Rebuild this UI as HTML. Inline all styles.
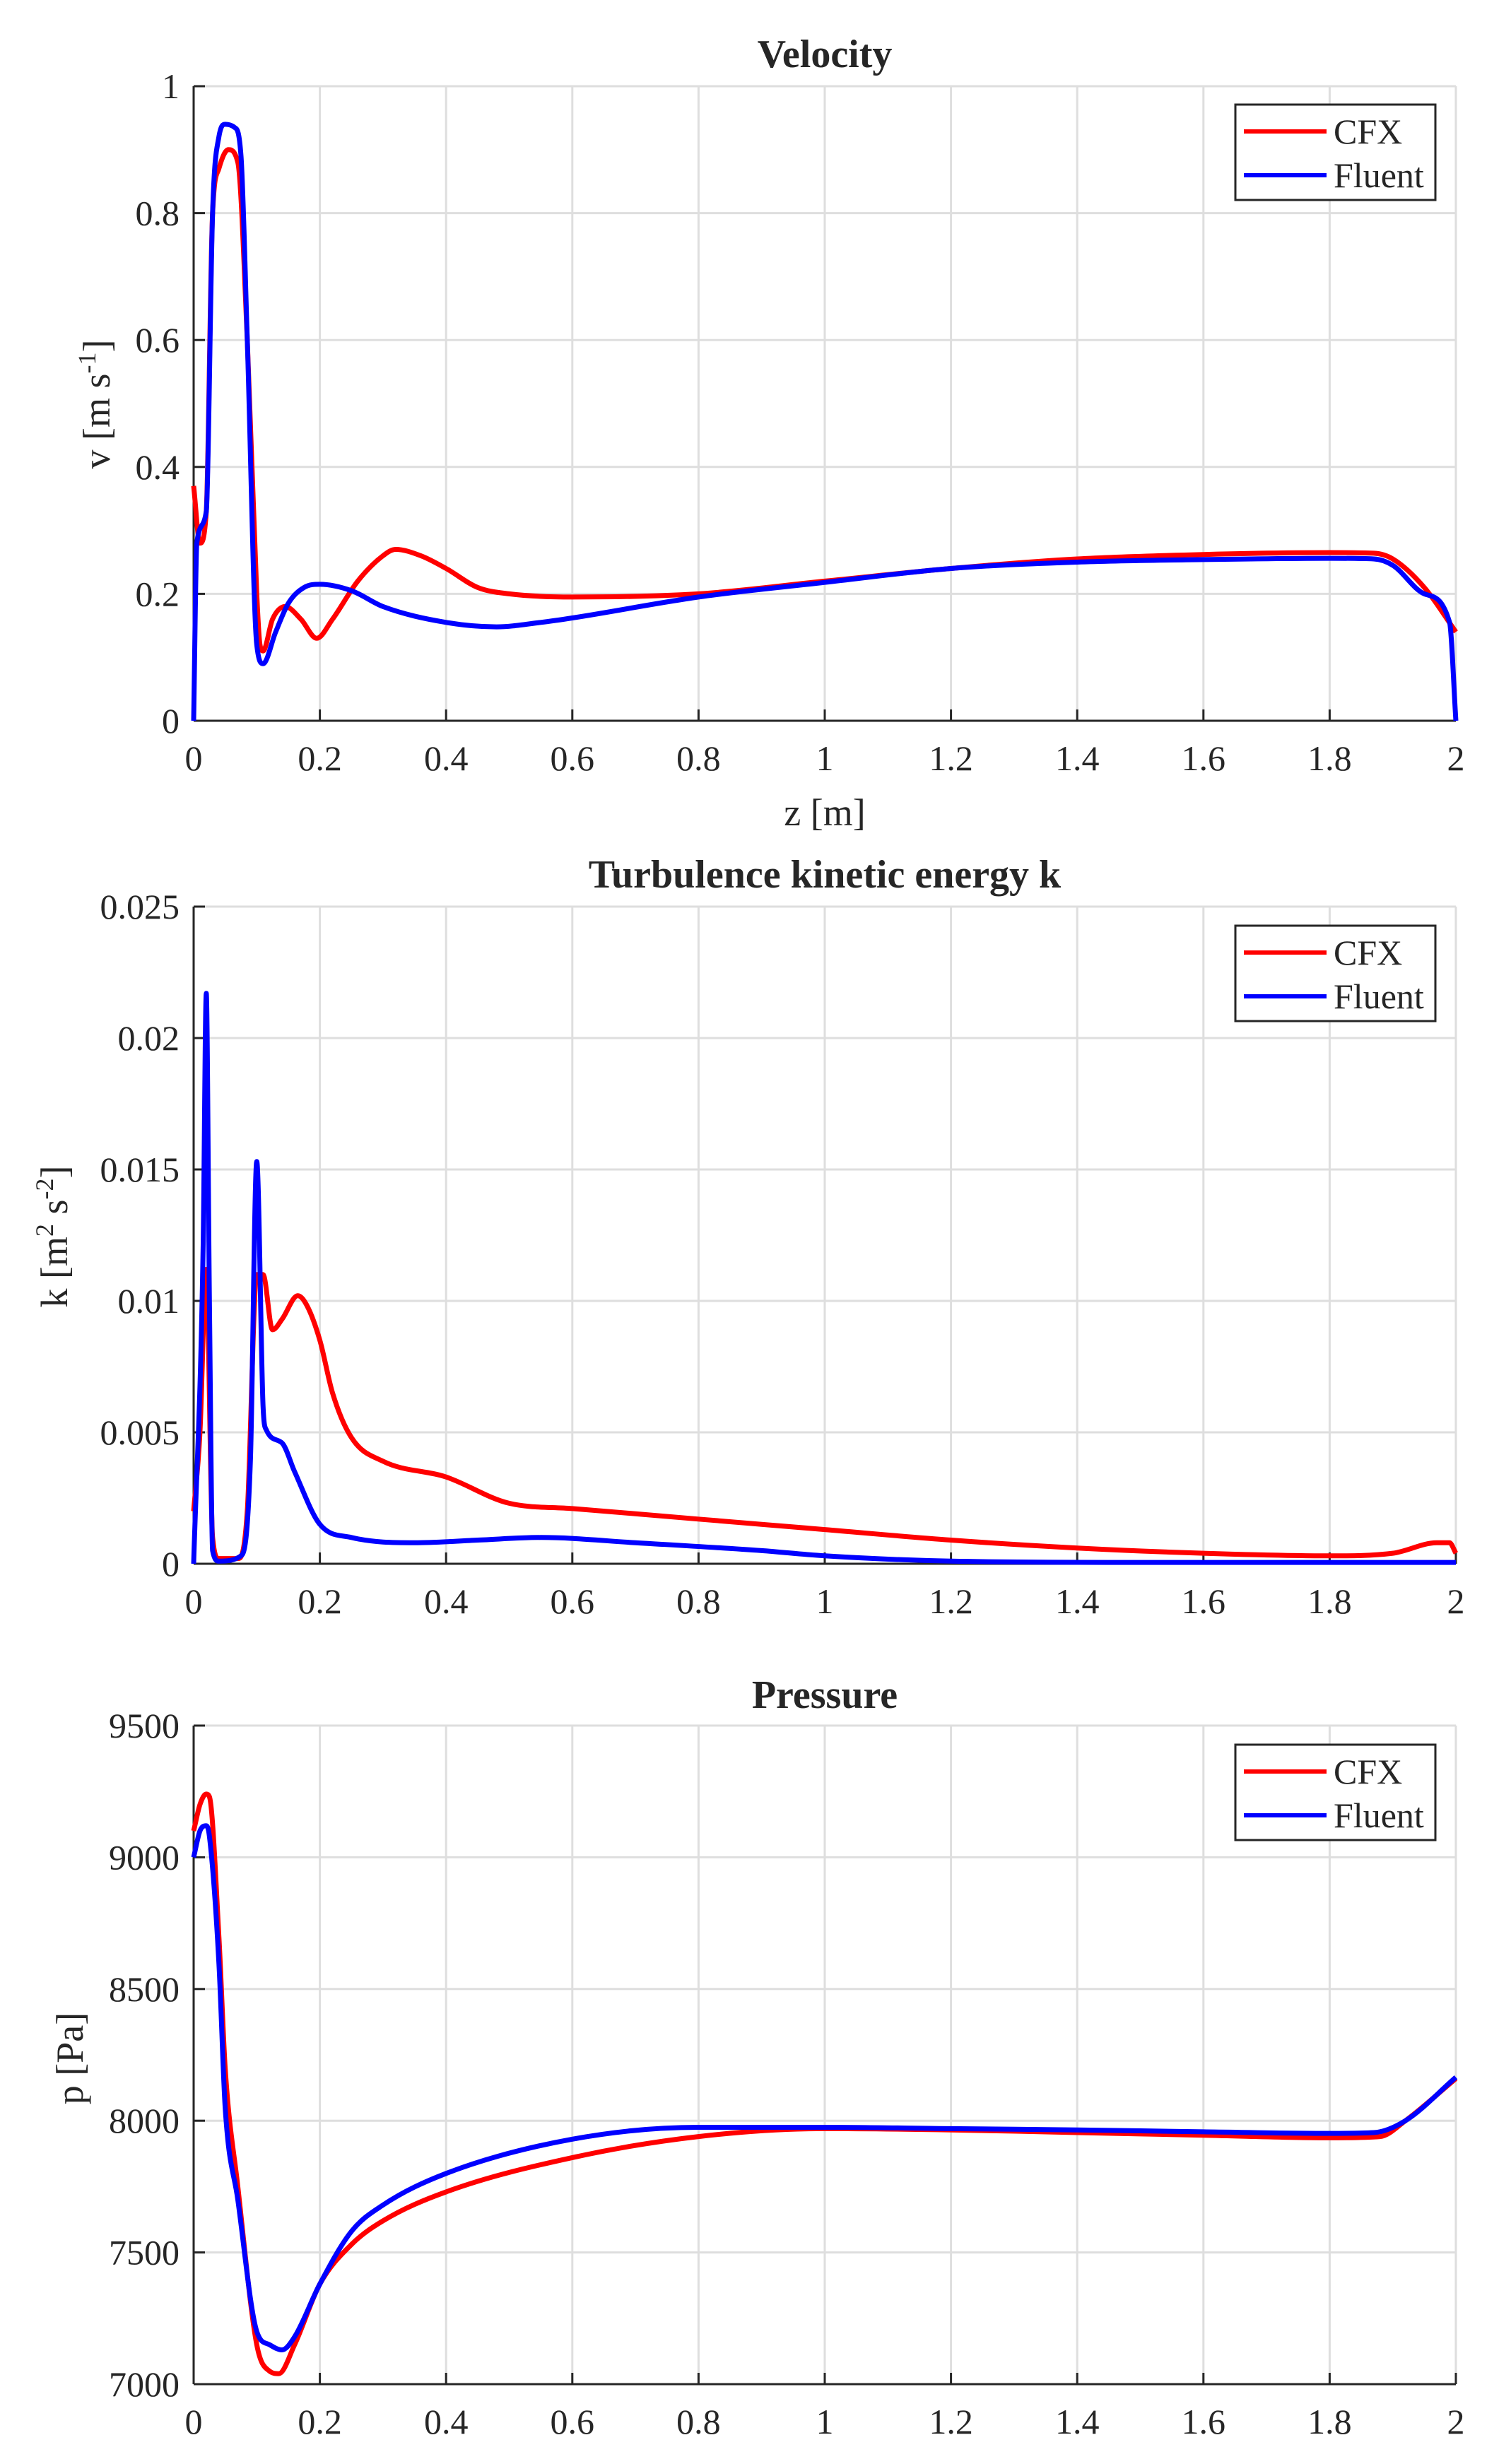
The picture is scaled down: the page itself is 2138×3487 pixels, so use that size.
<!DOCTYPE html>
<html><head><meta charset="utf-8"><style>
html,body{margin:0;padding:0;background:#fff;}
svg{display:block;}
text{font-family:"Liberation Serif",serif;fill:#262626;}
</style></head><body>
<svg id="chart" width="2138" height="3487" viewBox="0 0 2138 3487" xmlns="http://www.w3.org/2000/svg"></svg>
<script>
// ---- data ----
const velZcfx=[0,0.01,0.02,0.03,0.04,0.055,0.07,0.085,0.1,0.105,0.11,0.125,0.145,0.17,0.195,0.22,0.26,0.3,0.32,0.36,0.4,0.45,0.5,0.6,0.8,1,1.2,1.4,1.6,1.8,1.87,1.9,1.95,2];
const velCfx=[0.37,0.28,0.33,0.8,0.87,0.9,0.88,0.6,0.2,0.12,0.11,0.16,0.18,0.16,0.13,0.16,0.22,0.26,0.27,0.26,0.24,0.21,0.2,0.195,0.2,0.22,0.24,0.255,0.262,0.265,0.264,0.255,0.21,0.14];
const velZflu=[0,0.005,0.02,0.03,0.04,0.05,0.065,0.075,0.085,0.1,0.11,0.13,0.15,0.175,0.2,0.25,0.3,0.4,0.48,0.55,0.6,0.8,1,1.2,1.4,1.6,1.8,1.87,1.9,1.95,1.99,2];
const velFlu=[0,0.28,0.33,0.8,0.92,0.94,0.935,0.89,0.6,0.12,0.09,0.14,0.185,0.21,0.215,0.205,0.18,0.155,0.148,0.155,0.162,0.195,0.218,0.24,0.25,0.254,0.256,0.255,0.245,0.2,0.155,0];
const kZcfx=[0,0.01,0.02,0.03,0.04,0.07,0.085,0.1,0.11,0.125,0.14,0.165,0.18,0.2,0.22,0.25,0.3,0.4,0.5,0.6,0.8,1,1.2,1.4,1.6,1.8,1.9,1.97,1.99,2];
const kCfx=[0.002,0.005,0.0112,0.001,0.0002,0.0002,0.002,0.011,0.011,0.0089,0.0093,0.0102,0.0098,0.0085,0.0065,0.0048,0.0039,0.0033,0.0023,0.0021,0.0017,0.0013,0.0009,0.0006,0.0004,0.0003,0.0004,0.0008,0.0008,0.0004];
const kZflu=[0,0.015,0.02,0.025,0.03,0.04,0.075,0.09,0.1,0.11,0.115,0.14,0.16,0.2,0.25,0.35,0.45,0.55,0.7,0.9,1,1.2,1.5,2];
const kFlu=[0,0.012,0.0217,0.01,0.0005,0.0001,0.0003,0.004,0.0153,0.006,0.0051,0.0046,0.0035,0.0015,0.001,0.0008,0.0009,0.001,0.0008,0.0005,0.0003,0.0001,0.00005,0.00005];
const pZcfx=[0,0.01,0.02,0.025,0.04,0.05,0.07,0.1,0.12,0.135,0.16,0.2,0.25,0.3,0.4,0.6,0.8,1,1.2,1.4,1.6,1.8,1.88,1.92,2];
const pCfx=[9100,9200,9240,9230,8700,8200,7750,7150,7050,7040,7150,7380,7530,7620,7730,7860,7940,7970,7965,7955,7945,7935,7940,8000,8160];
const pZflu=[0,0.01,0.02,0.025,0.04,0.05,0.07,0.1,0.12,0.14,0.16,0.2,0.25,0.3,0.4,0.6,0.8,1,1.2,1.4,1.6,1.8,1.87,1.92,2];
const pFlu=[9000,9100,9120,9080,8600,8050,7700,7200,7150,7130,7180,7380,7580,7680,7800,7930,7975,7975,7970,7965,7958,7952,7955,8000,8165];
const xTicks=[0,0.2,0.4,0.6,0.8,1,1.2,1.4,1.6,1.8,2];
const xTickLabels=["0","0.2","0.4","0.6","0.8","1","1.2","1.4","1.6","1.8","2"];
const vTicks=[0,0.2,0.4,0.6,0.8,1];
const vTickLabels=["0","0.2","0.4","0.6","0.8","1"];
const kTicks=[0,0.005,0.01,0.015,0.02,0.025];
const kTickLabels=["0","0.005","0.01","0.015","0.02","0.025"];
const pTicks=[7000,7500,8000,8500,9000,9500];
const pTickLabels=["7000","7500","8000","8500","9000","9500"];

const NS="http://www.w3.org/2000/svg";
const svg=document.getElementById('chart');
function mk(tag,attrs,parent,name,txt){
  const e=document.createElementNS(NS,tag);
  for(const k in attrs)e.setAttribute(k,attrs[k]);
  
  
  if(txt!==undefined)e.textContent=txt;
  (parent||svg).appendChild(e);return e;
}
function smoothPath(px,py){
  const n=px.length;const d=[],m=new Array(n);
  for(let i=0;i<n-1;i++)d.push((py[i+1]-py[i])/(px[i+1]-px[i]));
  m[0]=d[0];m[n-1]=d[n-2];
  for(let i=1;i<n-1;i++)m[i]=(d[i-1]*d[i]<=0)?0:(d[i-1]+d[i])/2;
  for(let i=0;i<n-1;i++){
    if(d[i]===0){m[i]=0;m[i+1]=0;continue;}
    const a=m[i]/d[i],b=m[i+1]/d[i],s=a*a+b*b;
    if(s>9){const t=3/Math.sqrt(s);m[i]=t*a*d[i];m[i+1]=t*b*d[i];}
  }
  let p='M'+px[0].toFixed(1)+','+py[0].toFixed(1);
  for(let i=0;i<n-1;i++){
    const h=(px[i+1]-px[i])/3;
    p+=' C'+(px[i]+h).toFixed(1)+','+(py[i]+m[i]*h).toFixed(1)+' '+(px[i+1]-h).toFixed(1)+','+(py[i+1]-m[i+1]*h).toFixed(1)+' '+px[i+1].toFixed(1)+','+py[i+1].toFixed(1);
  }
  return p;
}
const L=274,R=2060;
function panel(o){
  const g=mk('g',{},svg,o.id+'-panel');
  const xs=z=>L+(z-0)/2*(R-L);
  const ys=v=>o.bot-(v-o.ymin)/(o.ymax-o.ymin)*(o.bot-o.top);
  xTicks.forEach((t,i)=>{
    mk('line',{x1:xs(t),x2:xs(t),y1:o.top,y2:o.bot,stroke:'#dedede','stroke-width':3},g,'x-gridline');
    mk('line',{x1:xs(t),x2:xs(t),y1:o.bot,y2:o.bot-16,stroke:'#262626','stroke-width':3},g,'x-tick');
    mk('text',{x:xs(t),y:o.bot+70,'font-size':50,'text-anchor':'middle'},g,'x-tick-label',xTickLabels[i]);
  });
  o.ticks.forEach((t,i)=>{
    mk('line',{x1:L,x2:R,y1:ys(t),y2:ys(t),stroke:'#dedede','stroke-width':3},g,'y-gridline');
    mk('line',{x1:L,x2:L+16,y1:ys(t),y2:ys(t),stroke:'#262626','stroke-width':3},g,'y-tick');
    mk('text',{x:L-20,y:ys(t)+17,'font-size':50,'text-anchor':'end'},g,'y-tick-label',o.labels[i]);
  });
  mk('line',{x1:L,x2:L,y1:o.top,y2:o.bot,stroke:'#262626','stroke-width':3},g,'y-axis-line');
  mk('line',{x1:L,x2:R,y1:o.bot,y2:o.bot,stroke:'#262626','stroke-width':3},g,'x-axis-line');
  const series=[[o.zc,o.c,'#ff0000','cfx-line'],[o.zf,o.f,'#0000ff','fluent-line']];
  series.forEach(s=>{
    const d=smoothPath(s[0].map(xs),s[1].map(ys));
    mk('path',{d:d,fill:'none',stroke:s[2],'stroke-width':7,'stroke-linejoin':'round'},g,s[3]);
  });
  mk('text',{x:(L+R)/2,y:o.titleY,'font-size':56,'font-weight':'bold','text-anchor':'middle'},g,'chart-title',o.title);
  const yl=mk('text',{x:0,y:0,'font-size':54,'text-anchor':'middle',transform:`translate(${o.ylx},${o.yly}) rotate(-90)`},g,'y-axis-title');
  yl.innerHTML=o.ylab;
  const lg=mk('g',{},g,'legend');
  const ly=o.legTop;
  mk('rect',{x:1748,y:ly,width:283,height:135,fill:'#fff',stroke:'#262626','stroke-width':3},lg,'legend-box');
  mk('line',{x1:1760,x2:1877,y1:ly+38,y2:ly+38,stroke:'#ff0000','stroke-width':6},lg,'legend-cfx-swatch');
  mk('text',{x:1887,y:ly+55,'font-size':50},lg,'legend-cfx-label','CFX');
  mk('line',{x1:1760,x2:1877,y1:ly+100,y2:ly+100,stroke:'#0000ff','stroke-width':6},lg,'legend-fluent-swatch');
  mk('text',{x:1887,y:ly+117,'font-size':50},lg,'legend-fluent-label','Fluent');
  return g;
}
panel({id:'velocity',top:122,bot:1020,ymin:0,ymax:1,ticks:vTicks,labels:vTickLabels,zc:velZcfx,c:velCfx,zf:velZflu,f:velFlu,
  title:'Velocity',titleY:95,ylx:155,yly:572,ylab:'v [m s<tspan dy="-20" font-size="36">-1</tspan><tspan dy="20">]</tspan>',legTop:148});
mk('text',{x:(L+R)/2,y:1168,'font-size':54,'text-anchor':'middle'},svg,'x-axis-title','z [m]');
panel({id:'tke',top:1283,bot:2213,ymin:0,ymax:0.025,ticks:kTicks,labels:kTickLabels,zc:kZcfx,c:kCfx,zf:kZflu,f:kFlu,
  title:'Turbulence kinetic energy k',titleY:1256,ylx:95,yly:1750,ylab:'k [m<tspan dy="-20" font-size="36">2</tspan><tspan dy="20"> s</tspan><tspan dy="-20" font-size="36">-2</tspan><tspan dy="20">]</tspan>',legTop:1310});
panel({id:'pressure',top:2442,bot:3374,ymin:7000,ymax:9500,ticks:pTicks,labels:pTickLabels,zc:pZcfx,c:pCfx,zf:pZflu,f:pFlu,
  title:'Pressure',titleY:2417,ylx:117,yly:2913,ylab:'p [Pa]',legTop:2469});
</script>
</body></html>
